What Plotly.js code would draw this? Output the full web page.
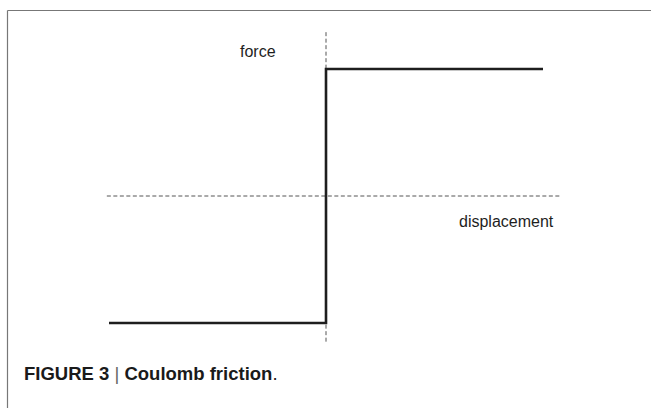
<!DOCTYPE html>
<html>
<head>
<meta charset="utf-8">
<script src="https://cdn.plot.ly/plotly-3.0.1.min.js"></script>
<style>
  html, body { margin: 0; padding: 0; background: #fff; }
  #plot { width: 651px; height: 408px; }
</style>
</head>
<body>
<div id="plot"></div>
<script>
// Coulomb friction: force is a step in displacement velocity sign
var frictionX = [-1, 0, 0, 1];
var frictionY = [-1, -1, 1, 1];

// dashed reference axes
var axisHX = [-1.01, 1.08];
var axisHY = [0, 0];
var axisVX = [0, 0];
var axisVY = [1.29, -1.15];

var labelForce = "force";
var labelDisp = "displacement";
var caption = "<b>FIGURE 3</b> <span style='font-weight:normal;color:#666'>|</span> <b>Coulomb friction</b>.";

var font = "'Liberation Sans', Arial, Helvetica, sans-serif";

var traces = [
  {
    x: axisHX, y: axisHY, mode: "lines", type: "scatter",
    line: {color: "#555", width: 1, dash: "4px,2.5px"},
    hoverinfo: "skip"
  },
  {
    x: axisVX, y: axisVY, mode: "lines", type: "scatter",
    line: {color: "#555", width: 1, dash: "4px,2.5px"},
    hoverinfo: "skip"
  },
  {
    x: frictionX, y: frictionY, mode: "lines", type: "scatter",
    line: {color: "#1e1e1e", width: 2.6},
    hoverinfo: "skip"
  }
];

var layout = {
  width: 651,
  height: 408,
  margin: {l: 0, r: 0, t: 0, b: 0},
  paper_bgcolor: "#fff",
  plot_bgcolor: "#fff",
  showlegend: false,
  xaxis: {range: [-1.5023, 1.4977], visible: false, fixedrange: true},
  yaxis: {range: [-1.6693, 1.5433], visible: false, fixedrange: true},
  font: {family: font, color: "#222", size: 16},
  annotations: [
    {x: -0.313, y: 1.134, text: labelForce, showarrow: false,
     xanchor: "center", yanchor: "middle", font: {size: 16, color: "#1e1e1e"}},
    {x: 1.06, y: -0.197, text: labelDisp, showarrow: false,
     xanchor: "right", yanchor: "middle", font: {size: 16, color: "#1e1e1e"}},
    {xref: "paper", yref: "paper", x: 22 / 651, y: 1 - 373 / 408, text: caption,
     showarrow: false, xanchor: "left", yanchor: "middle",
     font: {size: 18.5, color: "#1a1a1a"}}
  ],
  shapes: [
    {type: "line", xref: "paper", yref: "paper",
     x0: 7.5 / 651, x1: 1, y0: 1 - 10.5 / 408, y1: 1 - 10.5 / 408,
     line: {color: "#777", width: 1.2}},
    {type: "line", xref: "paper", yref: "paper",
     x0: 7.5 / 651, x1: 7.5 / 651, y0: 1 - 10.5 / 408, y1: 0,
     line: {color: "#777", width: 1.2}}
  ]
};

Plotly.newPlot("plot", traces, layout, {staticPlot: true, displayModeBar: false});
</script>
</body>
</html>
